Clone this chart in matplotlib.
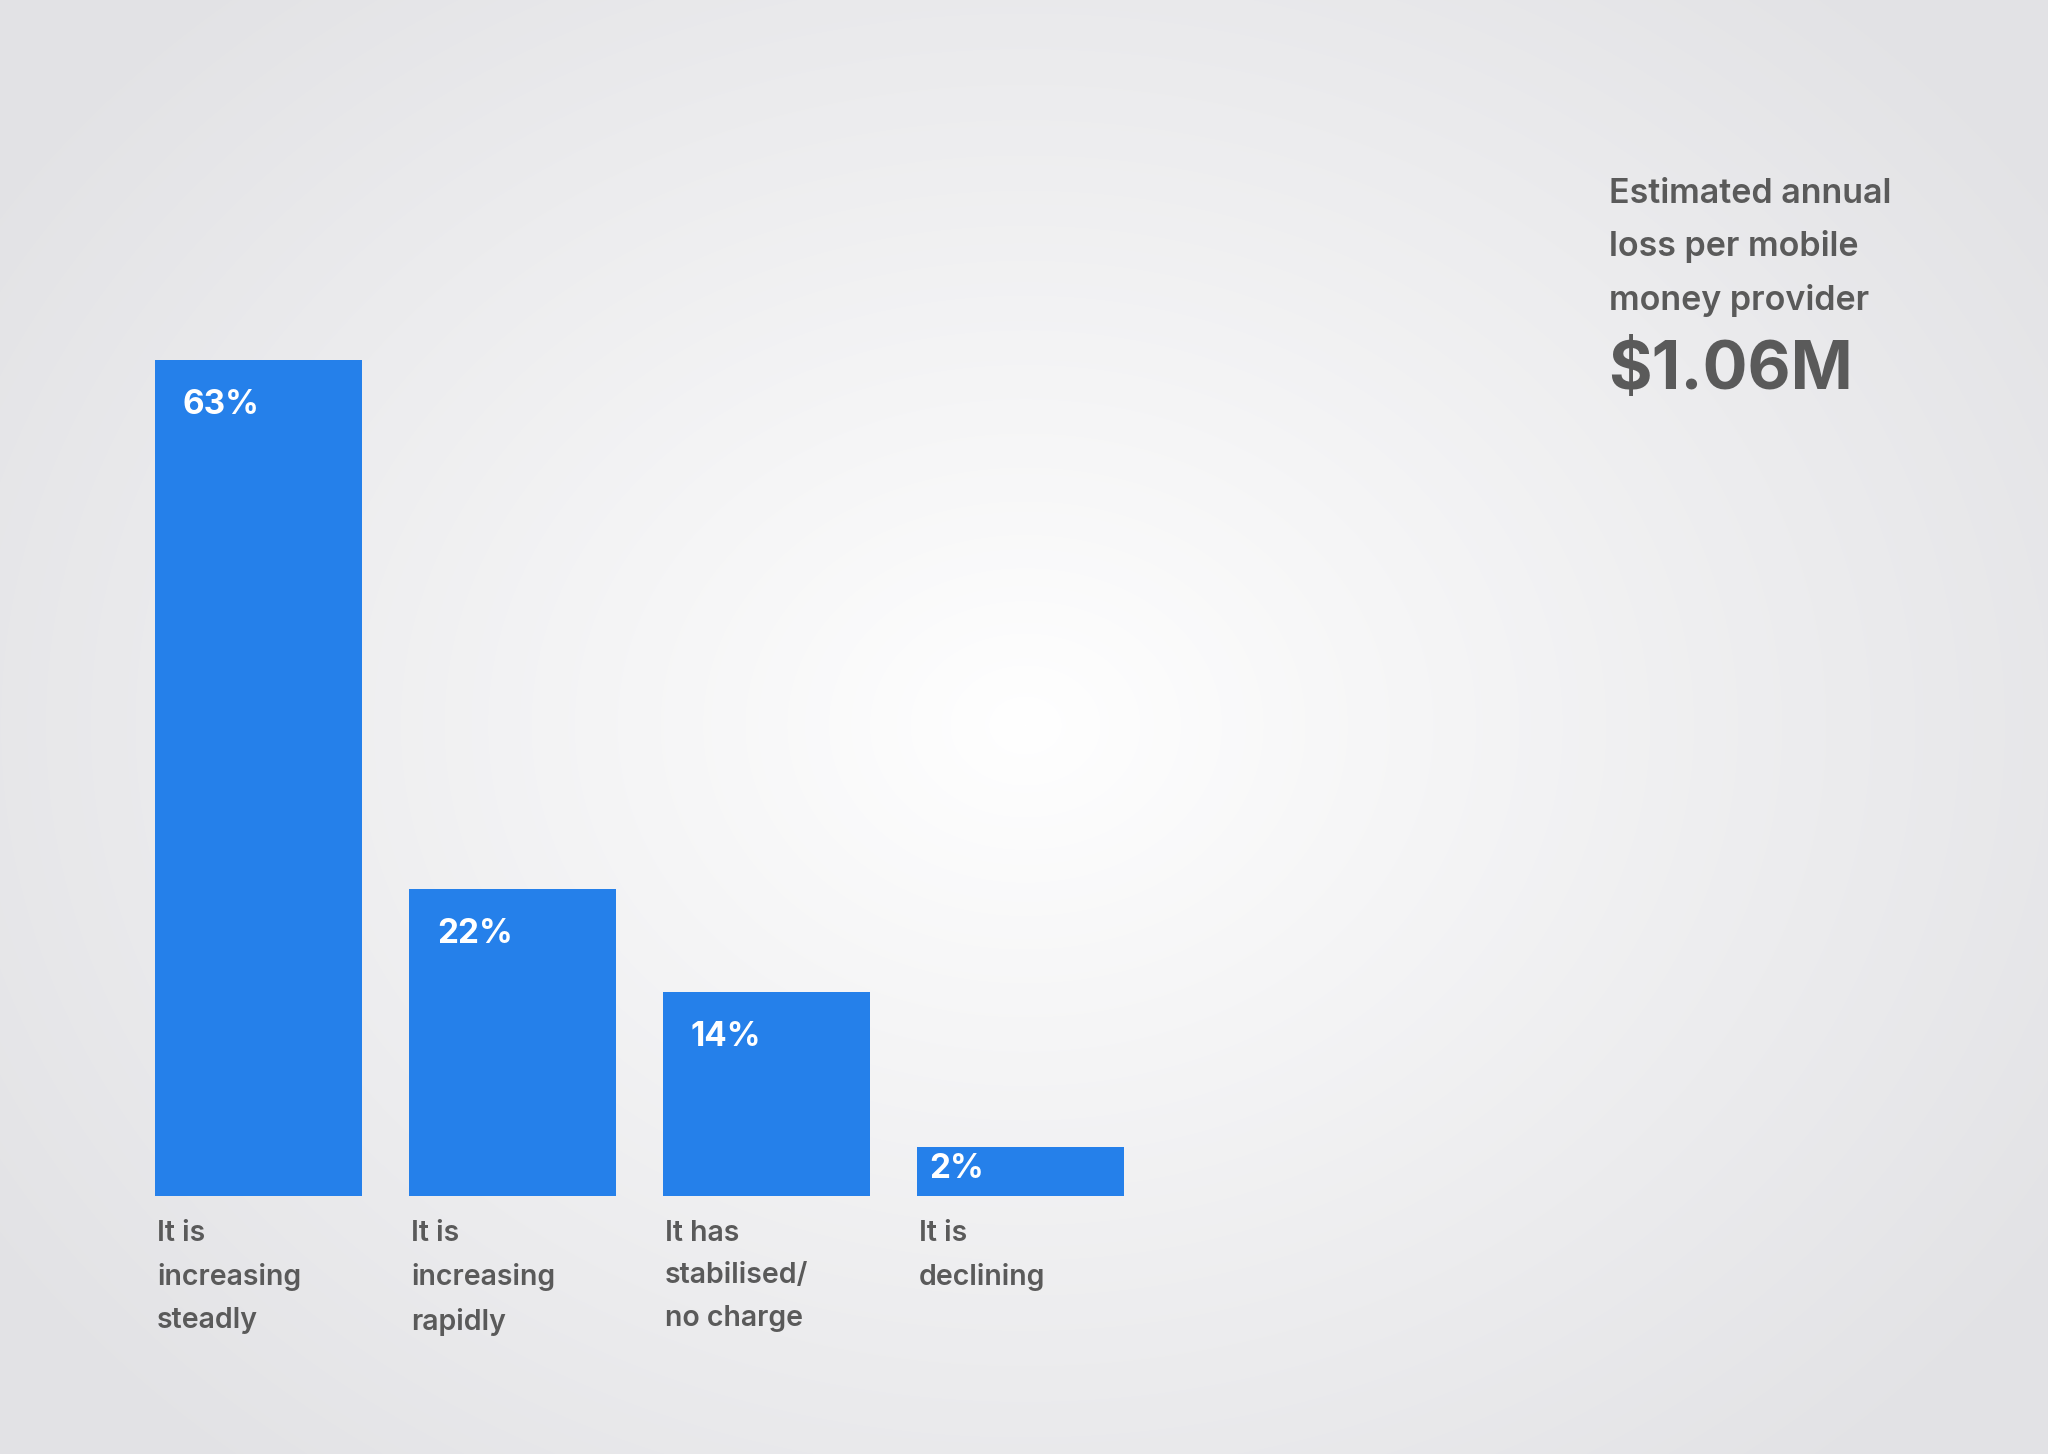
import numpy as np
import matplotlib
matplotlib.use("Agg")
import matplotlib.pyplot as plt

categories = ["It is\nincreasing\nsteadly", "It is\nincreasing\nrapidly",
              "It has\nstabilised/\nno charge", "It is\ndeclining"]
values = [63, 22, 14, 2]
value_labels = ["63%", "22%", "14%", "2%"]
side_title = "Estimated annual\nloss per mobile\nmoney provider"
side_value = "$1.06M"

plt.rcParams['font.family'] = ['Inter', 'DejaVu Sans']

W, H = 2048, 1454
fig = plt.figure(figsize=(W / 100, H / 100), dpi=100)

# radial gradient background
bg = fig.add_axes([0, 0, 1, 1])
yy, xx = np.mgrid[0:H, 0:W]
r = np.sqrt(((xx - 1025) / 1250.0) ** 2 + ((yy - 725) / 1000.0) ** 2)
t = np.clip(r, 0, 1) ** 0.95
c0 = np.array([1.0, 1.0, 1.0])
c1 = np.array([226, 226, 229]) / 255.0
img = c0[None, None, :] * (1 - t[..., None]) + c1[None, None, :] * t[..., None]
bg.imshow(img, extent=[0, W, H, 0], aspect='auto')
bg.set_xlim(0, W)
bg.set_ylim(H, 0)
bg.axis('off')

# bar axes: bars span x 155..1124 px, y 360..1196 px
bw = 207 / 254
pad = 1.8
left_px, right_px, top_px, bot_px = 155, 1124, 360, 1196
ax = fig.add_axes([left_px / W, 1 - bot_px / H, (right_px - left_px) / W, (bot_px - top_px) / H])
ax.patch.set_alpha(0)
x = np.arange(len(values))
ax.bar(x, np.array(values) + pad, bottom=-pad, width=bw, color='#2580ea', linewidth=0)
ax.set_xlim(-bw / 2, len(values) - 1 + bw / 2)
ax.set_ylim(-pad, max(values))
ax.axis('off')

text_col = '#5a5a5a'
for i, v in enumerate(values):
    if v > 5:
        ax.annotate(value_labels[i], xy=(i - bw / 2, v), xytext=(20, -21),
                    textcoords='offset points', ha='left', va='top',
                    fontsize=24, fontweight='bold', color='white')
    else:
        ax.annotate(value_labels[i], xy=(i - bw / 2, v), xytext=(9, -4),
                    textcoords='offset points', ha='left', va='top',
                    fontsize=24, fontweight='bold', color='white')
    ax.annotate(categories[i], xy=(i - bw / 2, -pad), xytext=(1.5, -17),
                textcoords='offset points', ha='left', va='top',
                fontsize=20.5, fontweight='semibold', color=text_col,
                linespacing=1.75, annotation_clip=False)

bg.text(1609, 178, side_title, ha='left', va='top', fontsize=24.5,
        fontweight='semibold', color=text_col, linespacing=1.78)
bg.text(1608, 389, side_value, ha='left', va='baseline', fontsize=48,
        fontweight='bold', color=text_col)

fig.savefig('out.png', dpi=100)
